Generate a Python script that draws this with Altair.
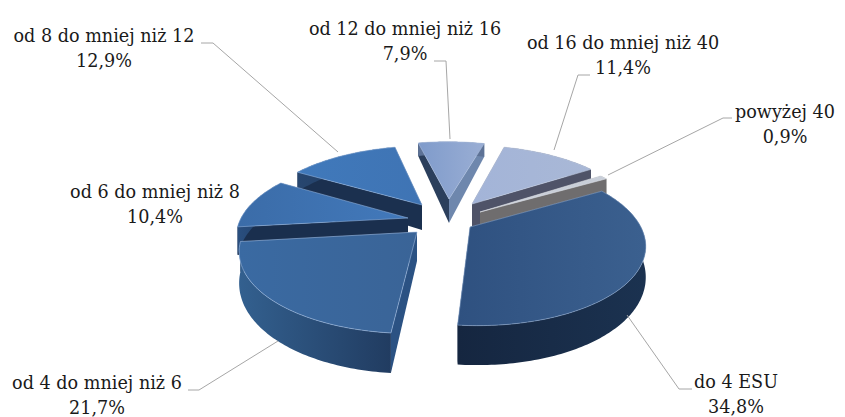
import math
import altair as alt

# ---- data ----
CATEGORIES = ["do 4 ESU", "od 4 do mniej niż 6", "od 6 do mniej niż 8", "od 8 do mniej niż 12",
              "od 12 do mniej niż 16", "od 16 do mniej niż 40", "powyżej 40"]
VALUES = [34.8, 21.7, 10.4, 12.9, 7.9, 11.4, 0.9]
VALUE_LABELS = ["34,8%", "21,7%", "10,4%", "12,9%", "7,9%", "11,4%", "0,9%"]

# ---- layout ----
W, H = 829, 409
OFF = 8  # page margin
START = -30.0
CX, CY = 441.0, 225.0
A, B, K = 170.0, 78.0, 0.2
D0 = 28.0
APEX = [(470, 227), (417, 232), (408, 218), (422, 205), (449, 199), (472, 204), (480, 212)]
DRAW_ORDER = [5, 6, 4, 3, 2, 1, 0]

TOP_FILL = [("#2f5180", "#3b608f"), ("#3a6aa2", "#3a6497"), ("#3b6ca8", "#4279bb"), ("#4079bb", "#3f74b4"),
            ("#7f9bcb", "#9aaed4"), ("#a3b4d8", "#a9b8d6"), ("#c8ced8", "#c8ced8")]
RIM_FILL = [("#152640", "#1b3250"), ("#33608f", "#213c61"), ("#2a4f7f", "#1e3a60"), ("#27466f", "#20395c"),
            ("#5d7296", "#5d7296"), ("#4f5368", "#4f5368"), ("#6f6d6e", "#6f6d6e")]
START_SIDE = ["#1a2f4c", "#2b5283", "#1a2f4e", "#1b304f", "#2b3f5c", "#4f5368", "#6f6d6e"]
END_SIDE = ["#1a2f4c", "#1f3a5e", "#1a2f4e", "#1b304f", "#6e87ad", "#4f5368", "#6f6d6e"]
EDGE = ["#8aa6cc", "#9dbbe0", "#8fb0dc", "#8fb0dc", "#a9bcdc", "#c0cbe0", "#dfe3ea"]

LABEL_X = [736, 97, 155, 104, 405, 623, 785]
LABEL_Y = [383, 384, 193, 37, 30, 44, 113]

LEADERS = [
    [(692, 389), (679, 389), (627, 315)],
    [(188, 390), (199, 390), (278, 341)],
    [],
    [(201, 43), (213, 43), (338, 152)],
    [(434, 61), (446, 61), (450, 139)],
    [(590, 75), (578, 75), (554, 150)],
    [(732, 118), (723, 118), (608, 175)],
]


def to_screen(gx, gy):
    s = 1.0 / (1.0 - K * gy)
    return CX + A * gx * s, CY + B * gy * s, D0 * (1 + 0.4 * gy)


def to_ground(sx, sy):
    dy = sy - CY
    gy = dy / (B + K * dy)
    s = 1.0 / (1.0 - K * gy)
    return (sx - CX) / (A * s), gy


def feature(points):
    ring = [[x - OFF, y - OFF] for x, y in points]
    ring.append(ring[0])
    return {"type": "Feature", "properties": {}, "geometry": {"type": "Polygon", "coordinates": [ring]}}


def grad(c0, c1):
    return alt.Gradient(gradient="linear", x1=0, y1=0, x2=1, y2=0,
                        stops=[alt.GradientStop(color=c0, offset=0), alt.GradientStop(color=c1, offset=1)])


def poly(points, fill, stroke=None, sw=0.0):
    args = dict(filled=True, fill=fill, strokeWidth=sw)
    args["stroke"] = stroke if stroke else "transparent"
    return (alt.Chart(alt.InlineData(values=[feature(points)])).mark_geoshape(**args)
            .project(type="identity", scale=1, translate=[0, 0]))


layers = []
angles = []
cur = START
for v in VALUES:
    sweep = v / sum(VALUES) * 360.0
    angles.append((cur, cur + sweep))
    cur += sweep

for i in DRAW_ORDER:
    a0, a1 = angles[i]
    gx0, gy0 = to_ground(*APEX[i])
    n = max(4, int(a1 - a0))
    deg = [a0 + (a1 - a0) * j / n for j in range(n + 1)]
    pts = [to_screen(gx0 + math.cos(math.radians(d)), gy0 + math.sin(math.radians(d))) for d in deg]
    ax, ay, ad = to_screen(gx0, gy0)
    top = [(p[0], p[1]) for p in pts]
    bot = [(p[0], p[1] + p[2]) for p in pts]
    apex_bot = (ax, ay + ad)
    walls = [(top[-1][1], [(ax, ay), top[-1], bot[-1], apex_bot], END_SIDE[i]),
             (top[0][1], [(ax, ay), top[0], bot[0], apex_bot], START_SIDE[i])]
    walls.sort(key=lambda w: w[0])
    for _, w, c in walls:
        layers.append(poly(w, c))
    layers.append(poly(top + bot[::-1], grad(*RIM_FILL[i])))
    layers.append(poly([(ax, ay)] + top, grad(*TOP_FILL[i]), EDGE[i], 0.6))

xs = alt.X("x:Q", scale=alt.Scale(domain=[0, W]), axis=None)
ys = alt.Y("y:Q", scale=alt.Scale(domain=[H, 0]), axis=None)

for seg in LEADERS:
    if seg:
        rows = [{"x": x - OFF, "y": y - OFF, "o": k} for k, (x, y) in enumerate(seg)]
        layers.append(alt.Chart(alt.InlineData(values=rows)).mark_line(color="#a6a6a6", strokeWidth=1)
                      .encode(x=xs, y=ys, order="o:Q"))

text_rows = [{"x": LABEL_X[i] - OFF, "y": LABEL_Y[i] - OFF, "t": CATEGORIES[i] + "\n" + VALUE_LABELS[i]}
             for i in range(len(CATEGORIES))]
layers.append(alt.Chart(alt.InlineData(values=text_rows))
              .mark_text(font="DejaVu Serif", fontSize=17.6, color="#1a1a1a", lineBreak="\n", lineHeight=24.5,
                         align="center", baseline="middle")
              .encode(x=xs, y=ys, text="t:N"))

chart = alt.layer(*layers).properties(width=W, height=H, padding=0, background="white",
                                      autosize=alt.AutoSizeParams(type="none")).configure_view(stroke=None)
chart.save("out.html", embed_options={"renderer": "svg", "actions": False})
